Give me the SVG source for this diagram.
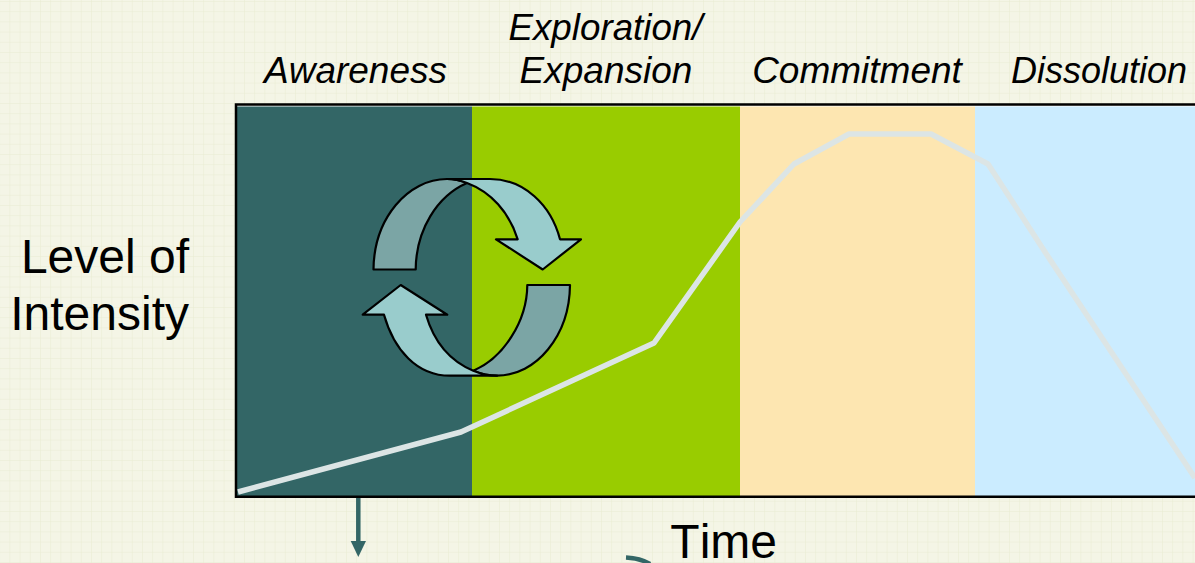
<svg xmlns="http://www.w3.org/2000/svg" width="1195" height="563" viewBox="0 0 1195 563">
<style>
text{font-family:"Liberation Sans",Arial,sans-serif;fill:#000;font-kerning:none}
.ph{font-size:37px;font-style:italic;text-anchor:middle}
.ax{font-size:48px;text-anchor:end}
.dark{fill:#7ba5a5;stroke:#000;stroke-width:2.2;stroke-linejoin:round}
.light{fill:#99cccc;stroke:#000;stroke-width:2.2;stroke-linejoin:round}
</style>
<defs>
<pattern id="grid" width="10.2" height="10.2" patternUnits="userSpaceOnUse" x="-0.8" y="1">
<rect width="10.2" height="10.2" fill="#f4f5e6"/>
<path d="M0 0H10.2M0 0V10.2" stroke="#e9ecd2" stroke-width="1" fill="none"/>
</pattern>
</defs>
<rect width="1195" height="563" fill="url(#grid)"/>
<g id="band-awareness"><rect x="237" y="106" width="235" height="390" fill="#336666"/></g>
<g id="band-exploration"><rect x="472" y="106" width="268" height="390" fill="#99cc00"/></g>
<g id="band-commitment"><rect x="740" y="106" width="235" height="390" fill="#fde6b1"/></g>
<g id="band-dissolution"><rect x="975" y="106" width="220" height="390" fill="#cbecff"/></g>
<path d="M237 106.200H1195" stroke="#fff" stroke-opacity=".7" stroke-width="1"/>
<path id="frame" d="M1195 104.500H236V496.800H1195" fill="none" stroke="#000" stroke-width="2.500"/>
<g id="connectors">
<polyline points="238,492 461,432 654,343 740,222 794,164 849,134 931,134 988,164 1045,252 1110,350 1195,478" fill="none" stroke="#dce5e5" stroke-width="5.500" stroke-linejoin="round"/>
<path d="M358.300 498V542" stroke="#336666" stroke-width="4.500" fill="none"/>
<polygon points="350.700,541 366,541 358.300,557" fill="#336666"/>
<path d="M626 557.500C637 558 645 561 650 564" stroke="#336666" stroke-width="4.500" fill="none"/>
</g>
<g id="cycle-arrows">
<path class="dark" d="M373.500 269.500C374 218 408 179 447 179C455 179 462 181 467 183C437 196 416 230 415.700 269.500Z"/>
<path class="light" d="M447 179H490C524 179 551 205 560 239.300H581L542.700 269.500L496 239.300H517.700C509 212 491 192 467 183C462 181 455 179 447 179Z"/>
<path class="dark" d="M570 285C569.500 336 536 375.700 497 375.700C488 375.700 480 373.500 473.300 370.700C503 358 527 322 527.300 285Z"/>
<path class="light" d="M497 375.700H450C417 375.700 394 350 384 314.700H362.700L400.700 285L447.300 314.700H426C434 342 450 361 473.300 370.700C480 373.500 488 375.700 497 375.700Z"/>
</g>
<g id="label-awareness"><text class="ph" x="355.500" y="83">Awareness</text></g>
<g id="label-exploration"><text class="ph" x="605.500" y="40" textLength="194" lengthAdjust="spacingAndGlyphs">Exploration/</text><text class="ph" x="606" y="83">Expansion</text></g>
<g id="label-commitment"><text class="ph" x="857" y="83">Commitment</text></g>
<g id="label-dissolution"><text class="ph" x="1099" y="83" textLength="176" lengthAdjust="spacingAndGlyphs">Dissolution</text></g>
<g id="label-intensity"><text class="ax" x="189" y="272.700">Level of</text><text class="ax" x="189" y="330">Intensity</text></g>
<g id="label-time"><text class="ax" x="777" y="558">Time</text></g>
</svg>
